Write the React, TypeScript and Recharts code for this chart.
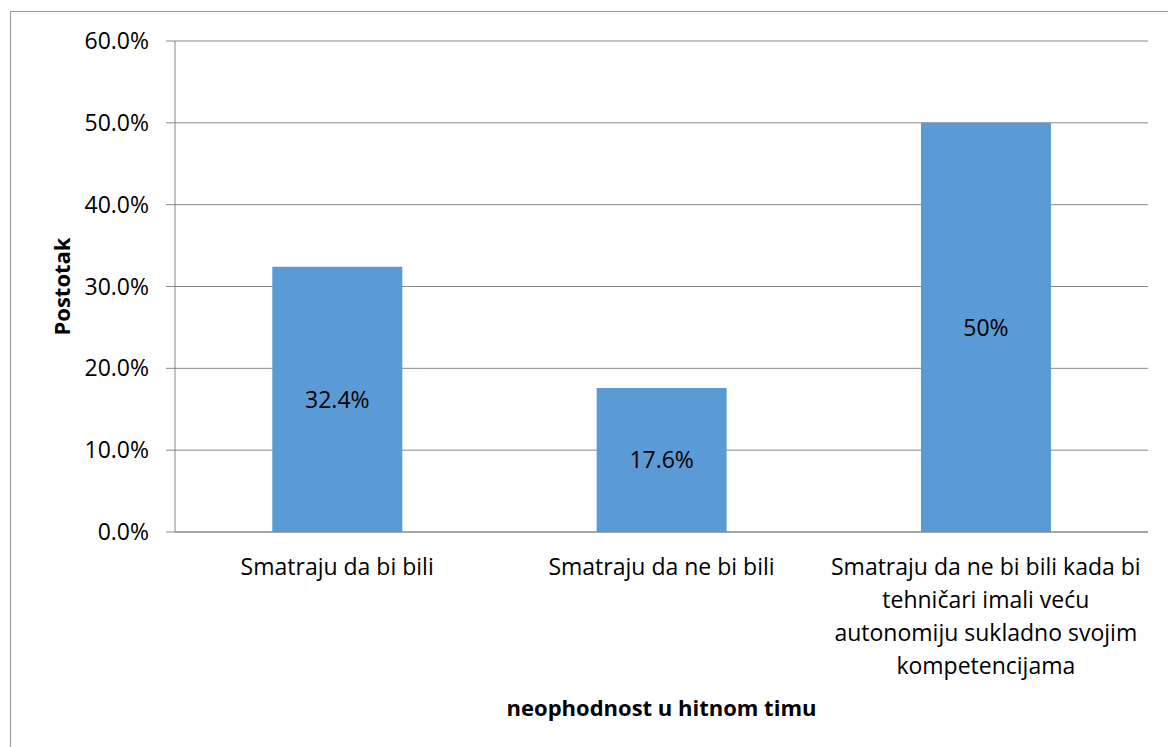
import { BarChart, Bar, XAxis, YAxis, CartesianGrid, LabelList } from "recharts";

const categories = [
  "Smatraju da bi bili",
  "Smatraju da ne bi bili",
  "Smatraju da ne bi bili kada bi tehničari imali veću autonomiju sukladno svojim kompetencijama",
];
const values = [32.4, 17.6, 50];
const yTicks = [0, 10, 20, 30, 40, 50, 60];
const boundaryTicks = [0, 1, 2, 3];

const FONT = "'Open Sans', sans-serif";
const FS = 23; // tick / data labels
const FS_BOLD = 22; // axis titles
const AXIS = "#888888";

const data = categories.map((name, i) => ({ name, value: values[i] }));

function wrap(text: string, maxChars: number): string[] {
  const lines: string[] = [];
  let cur = "";
  for (const w of text.split(" ")) {
    const next = cur ? cur + " " + w : w;
    if (next.length > maxChars && cur) {
      lines.push(cur);
      cur = w;
    } else cur = next;
  }
  if (cur) lines.push(cur);
  return lines;
}

function CategoryTick({ x, y, payload }: { x?: number; y?: number; payload?: { value: string } }) {
  const lines = wrap(payload?.value ?? "", 30);
  return (
    <text x={x} y={y} textAnchor="middle" fill="#000" fontSize={FS} fontFamily={FONT}>
      {lines.map((l, i) => (
        <tspan key={i} x={x} dy={i === 0 ? 43 : 33}>
          {l}
        </tspan>
      ))}
    </text>
  );
}

export default function App() {
  return (
    <div style={{ position: "absolute", left: 0, top: 0, width: 1168, height: 747, background: "#fff" }}>
      <div
        style={{
          position: "absolute",
          left: 10,
          top: 11,
          width: 1170,
          height: 750,
          border: "1.5px solid #999",
          boxSizing: "border-box",
        }}
      />
      <BarChart
        width={1168}
        height={747}
        data={data}
        margin={{ top: 41, right: 20, bottom: 25, left: 25 }}
        barCategoryGap="30%"
        style={{ position: "absolute", left: 0, top: 0 }}
      >
        <CartesianGrid vertical={false} stroke={AXIS} strokeWidth={1} />
        <XAxis
          xAxisId="edges"
          type="number"
          domain={[0, 3]}
          ticks={boundaryTicks}
          height={0}
          tick={false}
          tickSize={8}
          axisLine={false}
          tickLine={{ stroke: AXIS }}
        />
        <XAxis
          dataKey="name"
          height={190}
          interval={0}
          tickSize={0}
          tickMargin={0}
          tickLine={false}
          axisLine={{ stroke: AXIS }}
          tick={<CategoryTick />}
          label={{
            value: "neophodnost u hitnom timu",
            position: "insideBottom",
            offset: 6,
            style: { fontWeight: 700, fontSize: FS_BOLD, fill: "#000", fontFamily: FONT },
          }}
        />
        <YAxis
          width={150}
          domain={[0, 60]}
          ticks={yTicks}
          interval={0}
          tickSize={9}
          tickMargin={17}
          tickFormatter={(v: number) => `${v.toFixed(1)}%`}
          tick={{ fill: "#000", fontSize: FS, fontFamily: FONT }}
          axisLine={{ stroke: AXIS }}
          tickLine={{ stroke: AXIS }}
          label={{
            value: "Postotak",
            angle: -90,
            position: "insideLeft",
            offset: 37,
            style: { fontWeight: 700, fontSize: FS_BOLD, fill: "#000", fontFamily: FONT, textAnchor: "middle" },
          }}
        />
        <Bar dataKey="value" fill="#5B9BD5" isAnimationActive={false}>
          <LabelList
            dataKey="value"
            position="center"
            formatter={(v: number) => `${v}%`}
            style={{ fill: "#000", fontSize: FS, fontFamily: FONT }}
          />
        </Bar>
      </BarChart>
    </div>
  );
}
